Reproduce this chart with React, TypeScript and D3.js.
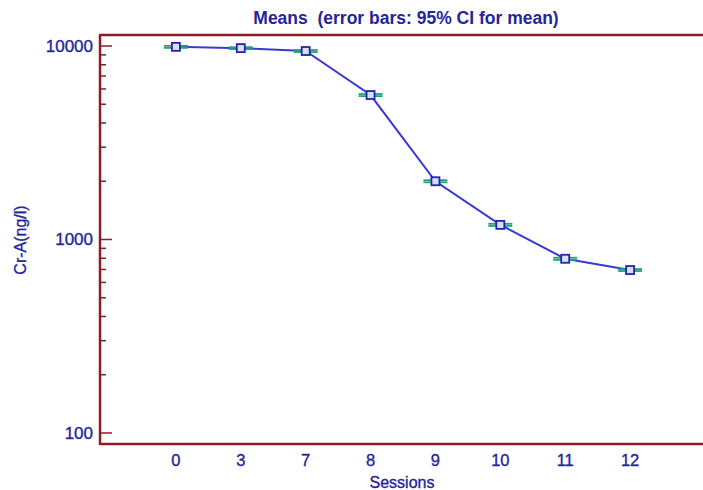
import React, { useEffect, useRef } from 'react';
import * as d3 from 'd3';

const sessions = ['0', '3', '7', '8', '9', '10', '11', '12'];
const means = [9900, 9750, 9420, 5580, 2000, 1190, 795, 695];
const ciHalf = [120, 110, 110, 70, 25, 15, 10, 8];
const yTicks = [100, 1000, 10000];

const W = 703;
const H = 490;
const axisColor = '#8b1c22';
const textColor = '#25259a';

export default function App() {
  const ref = useRef<SVGSVGElement>(null);

  useEffect(() => {
    const svg = d3.select(ref.current);
    svg.selectAll('*').remove();

    const left = 100, top = 35, bottom = 444, right = 706;

    const x = d3.scalePoint<string>().domain(sessions).range([left, right]).padding(1.17);
    const y = d3.scaleLog().domain([87.7, 11400]).range([bottom, top]);

    const font = 'Liberation Sans, Arial, sans-serif';
    // slightly heavier text like the original
    const label = (sel: any, size: number) => sel
      .attr('font-family', font).attr('font-size', size)
      .attr('fill', textColor).attr('stroke', textColor).attr('stroke-width', 0.35);

    // frame
    svg.append('line').attr('x1', left).attr('x2', W + 5).attr('y1', top).attr('y2', top)
      .attr('stroke', axisColor).attr('stroke-width', 2.5);
    svg.append('line').attr('x1', left).attr('x2', W + 5).attr('y1', bottom).attr('y2', bottom)
      .attr('stroke', axisColor).attr('stroke-width', 2.5);
    svg.append('line').attr('x1', left).attr('x2', left).attr('y1', top - 1).attr('y2', bottom + 1)
      .attr('stroke', axisColor).attr('stroke-width', 2.5);

    // y ticks (major + minor), pointing inward
    const minor: number[] = [];
    [100, 1000].forEach(d => { for (let k = 2; k <= 9; k++) minor.push(d * k); });
    svg.append('g').selectAll('line').data(minor).enter().append('line')
      .attr('x1', left).attr('x2', left + 6)
      .attr('y1', d => y(d)).attr('y2', d => y(d))
      .attr('stroke', axisColor).attr('stroke-width', 1.5);
    svg.append('g').selectAll('line').data(yTicks).enter().append('line')
      .attr('x1', left).attr('x2', left + 12)
      .attr('y1', d => y(d)).attr('y2', d => y(d))
      .attr('stroke', axisColor).attr('stroke-width', 1.5);
    label(svg.append('g').selectAll('text').data(yTicks).enter().append('text')
      .attr('x', left - 7).attr('y', d => y(d) + 6)
      .attr('text-anchor', 'end'), 17)
      .text(d => d);

    // x tick labels
    label(svg.append('g').selectAll('text').data(sessions).enter().append('text')
      .attr('x', d => x(d)!).attr('y', 466)
      .attr('text-anchor', 'middle'), 16.5)
      .text(d => d);

    // line
    const line = d3.line<number>()
      .x((d, i) => x(sessions[i])!)
      .y(d => y(d));
    svg.append('path').datum(means).attr('d', line)
      .attr('fill', 'none').attr('stroke', '#3a3ad0').attr('stroke-width', 2);

    // error bars (caps)
    const eb = svg.append('g');
    means.forEach((m, i) => {
      const cx = x(sessions[i])!;
      [m - ciHalf[i], m + ciHalf[i]].forEach(v => {
        eb.append('line').attr('x1', cx - 12).attr('x2', cx + 12)
          .attr('y1', y(v)).attr('y2', y(v))
          .attr('stroke', '#1fa37a').attr('stroke-width', 1.8);
      });
      eb.append('line').attr('x1', cx).attr('x2', cx)
        .attr('y1', y(m - ciHalf[i])).attr('y2', y(m + ciHalf[i]))
        .attr('stroke', '#1fa37a').attr('stroke-width', 1.5);
    });

    // markers
    svg.append('g').selectAll('rect').data(means).enter().append('rect')
      .attr('x', (d, i) => x(sessions[i])! - 4).attr('y', d => y(d) - 4)
      .attr('width', 8).attr('height', 8)
      .attr('fill', '#d8e0f4').attr('stroke', '#2424b0').attr('stroke-width', 1.8);

    // title and axis titles
    label(svg.append('text').attr('x', 406).attr('y', 24).attr('text-anchor', 'middle')
      .attr('xml:space', 'preserve'), 17.5)
      .attr('font-weight', 'bold').attr('stroke-width', 0)
      .text('Means  (error bars: 95% CI for mean)');
    label(svg.append('text').attr('x', 402).attr('y', 488).attr('text-anchor', 'middle'), 16)
      .text('Sessions');
    label(svg.append('text')
      .attr('transform', 'translate(26,240) rotate(-90)')
      .attr('text-anchor', 'middle'), 16)
      .text('Cr-A(ng/l)');
  }, []);

  return (
    <svg ref={ref} width={W} height={H}
      style={{ position: 'absolute', left: 0, top: 0, background: '#fff' }} />
  );
}
